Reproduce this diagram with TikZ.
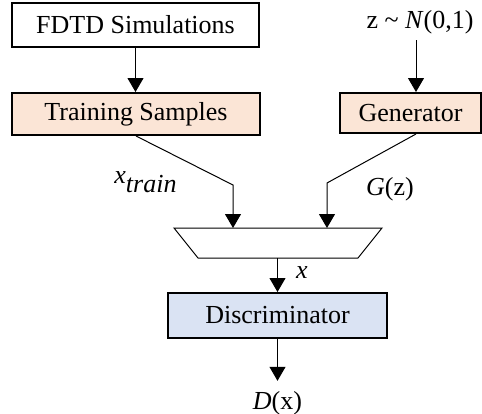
\documentclass[tikz,border=0pt]{standalone}
\usepackage{fontspec}
\setmainfont{Liberation Serif}
\usetikzlibrary{arrows.meta}
\definecolor{peach}{HTML}{FBE5D6}
\definecolor{paleblue}{HTML}{DAE3F3}

\begin{document}
\begin{tikzpicture}[x=0.5pt, y=-0.5pt, font=\fontsize{13}{15}\selectfont,
    box/.style={draw, line width=1pt, inner sep=0pt},
    arr/.style={-{Triangle[width=8pt,length=7pt]}, line width=0.5pt}]
  \useasboundingbox (0,0) rectangle (482,413);

  % Blocks
  \node[box, minimum width=123.5pt, minimum height=22pt] (fdtd) at (135.5,25) {FDTD Simulations};
  \node[box, fill=peach, minimum width=124pt, minimum height=21pt] (train) at (136,114) {Training Samples};
  \node[box, fill=peach, minimum width=70.5pt, minimum height=20pt] (gen) at (410.5,113) {Generator};
  \node[box, fill=paleblue, minimum width=109.5pt, minimum height=22.5pt] (disc) at (277.5,315.5) {Discriminator};

  % Texts
  \node[inner sep=3pt] (noise) at (420,22) {z \textasciitilde{} \textit{N}(0,1)};
  \node (xtrain) at (146,182) {\textit{x}$_{\textit{train}}$};
  \node (gz) at (390,189) {\textit{G}(z)};
  \node (xin) at (302,273) {\textit{x}};
  \node[inner sep=5pt] (dout) at (277.5,403) {\textit{D}(x)};

  % Mixer
  \coordinate (tl) at (174,228); \coordinate (tr) at (382,228);
  \coordinate (br) at (358,258); \coordinate (bl) at (198,258);
  \draw[line width=0.5pt] (tl)--(tr)--(br)--(bl)--cycle;
  \coordinate (inl) at (233,228); \coordinate (inr) at (327,228);
  \coordinate (outc) at (277.5,258);
  \coordinate (kl) at (233,185); \coordinate (kr) at (327,183);

  % Connectors
  \draw[arr] (fdtd.south) -- (fdtd.south |- train.north);
  \draw[arr] (416,0 |- noise.south) -- (416,0 |- gen.north);
  \draw[arr] (train.south) -- (kl) -- (inl);
  \draw[arr] (416,0 |- gen.south) -- (kr) -- (inr);
  \draw[arr] (outc) -- (disc.north);
  \draw[arr] (disc.south) -- (dout.north);
\end{tikzpicture}
\end{document}
